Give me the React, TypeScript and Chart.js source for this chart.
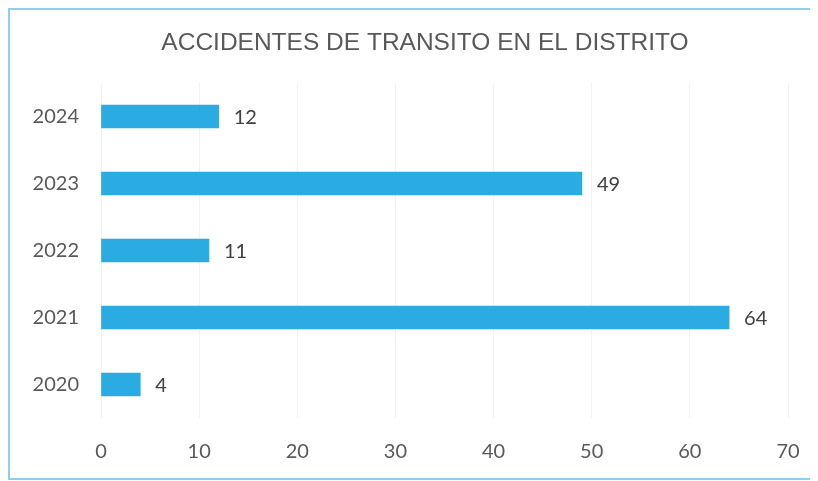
import React, { useEffect, useRef } from "react";
import { Chart, registerables } from "chart.js";

Chart.register(...registerables);

const TITLE = "ACCIDENTES DE TRANSITO EN EL DISTRITO";
const years = ["2020", "2021", "2022", "2023", "2024"];
const accidents = [4, 64, 11, 49, 12];
const xTicks = [0, 10, 20, 30, 40, 50, 60, 70];

const BAR_COLOR = "#2aabe2";
const TEXT_GRAY = "#595959";

const titlePlugin = {
  id: "customTitle",
  afterDraw(chart: any) {
    const ctx = chart.ctx;
    ctx.save();
    ctx.font = "24.5px 'Liberation Sans', Arial, sans-serif";
    ctx.fillStyle = TEXT_GRAY;
    ctx.textAlign = "center";
    ctx.textBaseline = "middle";
    ctx.fillText(TITLE, 415, 33);
    ctx.restore();
  },
};

const valueLabels = {
  id: "valueLabels",
  afterDatasetsDraw(chart: any) {
    const ctx = chart.ctx;
    const meta = chart.getDatasetMeta(0);
    ctx.save();
    ctx.font = "20px Lato, 'Open Sans', sans-serif";
    ctx.fillStyle = "#404040";
    ctx.textAlign = "left";
    ctx.textBaseline = "middle";
    meta.data.forEach((bar: any, i: number) => {
      ctx.fillText(String(accidents[i]), bar.x + 15, bar.y + 1);
    });
    ctx.restore();
  },
};

export default function App() {
  const ref = useRef<HTMLCanvasElement>(null);
  useEffect(() => {
    if (!ref.current) return;
    const chart = new Chart(ref.current, {
      type: "bar",
      data: {
        labels: years,
        datasets: [
          {
            data: accidents,
            backgroundColor: BAR_COLOR,
            borderWidth: 0,
            barThickness: 23,
          },
        ],
      },
      plugins: [titlePlugin, valueLabels],
      options: {
        indexAxis: "y",
        animation: false,
        responsive: false,
        maintainAspectRatio: false,
        layout: { padding: { top: 73, right: 28, left: 0, bottom: 0 } },
        plugins: {
          legend: { display: false },
          title: { display: false },
          tooltip: { enabled: false },
        },
        scales: {
          x: {
            min: 0,
            max: 70,
            afterBuildTicks: (scale: any) => {
              scale.ticks = xTicks.map((v) => ({ value: v }));
            },
            afterFit: (scale: any) => {
              scale.height = 60;
              scale.paddingLeft = 0;
              scale.paddingRight = 0;
            },
            grid: {
              color: "#f2f2f2",
              drawTicks: false,
              lineWidth: 1,
            },
            border: { display: false },
            ticks: {
              color: TEXT_GRAY,
              padding: 22,
              font: { family: "Lato, 'Open Sans', sans-serif", size: 20 },
            },
          },
          y: {
            reverse: true,
            afterFit: (scale: any) => {
              scale.width = 91;
              scale.paddingTop = 0;
              scale.paddingBottom = 0;
            },
            grid: { display: false, drawTicks: false },
            border: { display: false },
            ticks: {
              color: TEXT_GRAY,
              padding: 22,
              font: { family: "Lato, 'Open Sans', sans-serif", size: 20 },
            },
          },
        },
      },
    });
    return () => chart.destroy();
  }, []);

  return (
    <div
      style={{
        width: 806,
        height: 468,
        border: "2px solid #8fcfee",
        position: "relative",
      }}
    >
      <canvas ref={ref} width={806} height={468} style={{ display: "block" }} />
    </div>
  );
}
